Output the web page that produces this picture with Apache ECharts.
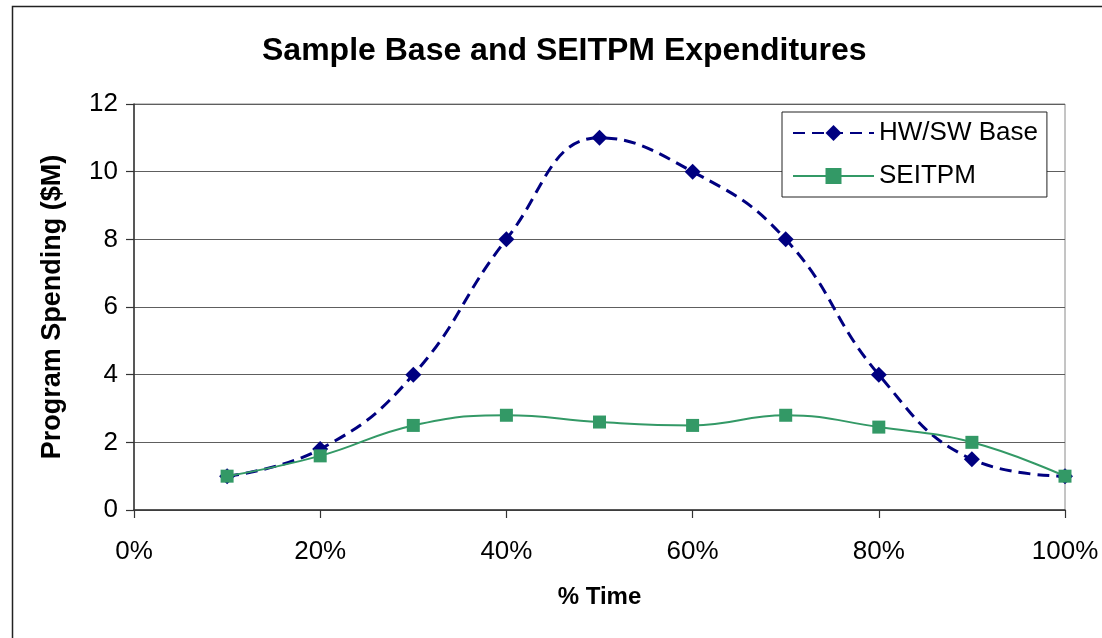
<!DOCTYPE html>
<html>
<head>
<meta charset="utf-8">
<script src="https://cdn.jsdelivr.net/npm/echarts@6/dist/echarts.min.js"></script>
<style>
  html, body { margin: 0; padding: 0; background: #fff; }
  #chart { width: 1102px; height: 638px; }
</style>
</head>
<body>
<div id="chart"></div>
<script>
// Share of programme time elapsed (fraction of 1)
const timeShare = [0.1, 0.2, 0.3, 0.4, 0.5, 0.6, 0.7, 0.8, 0.9, 1.0];
// Spending in $M per time step
const hwswBase = [1.0, 1.8, 4.0, 8.0, 11.0, 10.0, 8.0, 4.0, 1.5, 1.0];
const seitpm = [1.0, 1.6, 2.5, 2.8, 2.6, 2.5, 2.8, 2.45, 2.0, 1.0];
const seriesNames = ['HW/SW Base', 'SEITPM'];

const toPairs = (xs, ys) => xs.map((x, i) => [x, ys[i]]);

const font = 'Arial, "Liberation Sans", sans-serif';
const chart = echarts.init(document.getElementById('chart'));

chart.setOption({
  backgroundColor: '#ffffff',
  animation: false,
  title: {
    text: 'Sample Base and SEITPM Expenditures',
    left: 257,
    top: 30,
    textStyle: { fontFamily: font, fontSize: 32, fontWeight: 'bold', color: '#000' }
  },
  graphic: [{
    type: 'rect',
    shape: { x: 12.5, y: 6.5, width: 1200, height: 700 },
    style: { fill: 'none', stroke: '#222', lineWidth: 1.5 },
    silent: true
  }],
  legend: {
    orient: 'vertical',
    left: 782,
    top: 112,
    padding: [8, 9, 8, 10],
    itemGap: 17,
    itemWidth: 81,
    itemHeight: 20,
    borderColor: '#222',
    borderWidth: 1,
    backgroundColor: '#fff',
    textStyle: { fontFamily: font, fontSize: 26, color: '#000' },
    data: seriesNames
  },
  grid: {
    left: 134,
    right: 37,
    top: 104,
    bottom: 128,
    show: true,
    borderColor: '#8a8a8a',
    borderWidth: 1,
    backgroundColor: '#fff'
  },
  xAxis: {
    type: 'value',
    min: 0,
    max: 1,
    interval: 0.2,
    name: '% Time',
    nameLocation: 'middle',
    nameGap: 75,
    nameTextStyle: { fontFamily: font, fontSize: 24, fontWeight: 'bold', color: '#000' },
    axisLine: { show: true, onZero: false, lineStyle: { color: '#333', width: 1.5 } },
    axisTick: { show: true, inside: false, length: 8, lineStyle: { color: '#333', width: 1.2 } },
    axisLabel: {
      margin: 29,
      fontFamily: font,
      fontSize: 26,
      color: '#000',
      formatter: v => Math.round(v * 100) + '%'
    },
    splitLine: { show: false }
  },
  yAxis: {
    type: 'value',
    min: 0,
    max: 12,
    interval: 2,
    name: 'Program Spending ($M)',
    nameLocation: 'middle',
    nameGap: 68,
    nameTextStyle: { fontFamily: font, fontSize: 27, fontWeight: 'bold', color: '#000' },
    axisLine: { show: true, lineStyle: { color: '#333', width: 1.5 } },
    axisTick: { show: true, inside: false, length: 8, lineStyle: { color: '#333', width: 1.2 } },
    axisLabel: { margin: 16, fontFamily: font, fontSize: 26, color: '#000' },
    splitLine: { show: true, lineStyle: { color: '#5e5e5e', width: 1.2 } }
  },
  series: [
    {
      name: seriesNames[0],
      type: 'line',
      data: toPairs(timeShare, hwswBase),
      smooth: 0.45,
      symbol: 'diamond',
      symbolSize: 16,
      itemStyle: { color: '#000080' },
      lineStyle: { color: '#000080', width: 3, type: [12, 7] },
      z: 3
    },
    {
      name: seriesNames[1],
      type: 'line',
      data: toPairs(timeShare, seitpm),
      smooth: 0.45,
      symbol: 'rect',
      symbolSize: 13,
      itemStyle: { color: '#339966' },
      lineStyle: { color: '#339966', width: 2 },
      z: 4
    }
  ]
});
</script>
</body>
</html>
